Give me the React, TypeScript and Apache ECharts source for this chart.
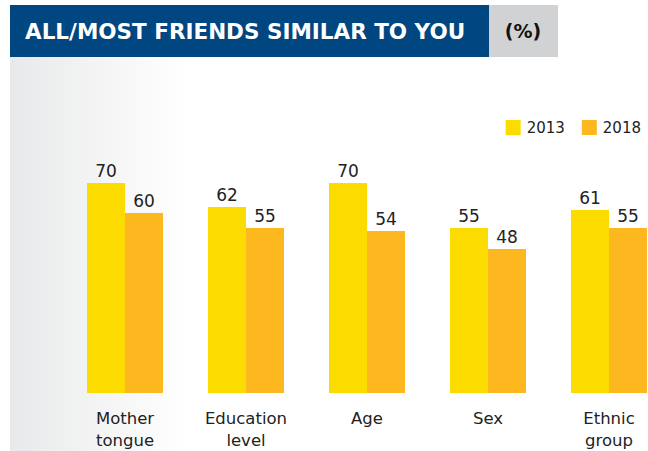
import React, { useEffect, useRef } from "react";
import * as echarts from "echarts";

const categories = ["Mother\ntongue", "Education\nlevel", "Age", "Sex", "Ethnic\ngroup"];
const values2013 = [70, 62, 70, 55, 61];
const values2018 = [60, 55, 54, 48, 55];
const seriesNames = ["2013", "2018"];
const titleText = "ALL/MOST FRIENDS SIMILAR TO YOU";
const unitText = "(%)";

const FONT = "'DejaVu Sans', 'Noto Sans', sans-serif";

export default function App() {
  const ref = useRef<HTMLDivElement>(null);
  useEffect(() => {
    if (!ref.current) return;
    const chart = echarts.init(ref.current, null, { renderer: "svg" });
    const labelStyle = {
      show: true,
      position: "top" as const,
      color: "#222",
      fontSize: 17,
      fontFamily: FONT,
      distance: 4,
    };
    chart.setOption({
      animation: false,
      backgroundColor: "#ffffff",
      graphic: [
        {
          type: "rect",
          shape: { x: 10, y: 57, width: 638, height: 394 },
          style: {
            fill: new echarts.graphic.LinearGradient(0, 0, 1, 0, [
              { offset: 0, color: "#e8e9ea" },
              { offset: 0.28, color: "#ffffff" },
              { offset: 1, color: "#ffffff" },
            ]),
          },
          z: -10,
        },
        {
          type: "rect",
          shape: { x: 10, y: 5, width: 479, height: 52 },
          style: { fill: "#004680" },
        },
        {
          type: "rect",
          shape: { x: 489, y: 5, width: 69, height: 52 },
          style: { fill: "#d1d2d4" },
        },
        {
          type: "text",
          x: 25,
          y: 31,
          style: {
            text: titleText,
            fill: "#ffffff",
            font: `bold 21.5px ${FONT}`,
            textVerticalAlign: "middle",
          },
        },
        {
          type: "text",
          x: 523,
          y: 31,
          style: {
            text: unitText,
            fill: "#111",
            font: `bold 19px ${FONT}`,
            textAlign: "center",
            textVerticalAlign: "middle",
          },
        },
      ],
      legend: {
        data: seriesNames,
        right: 2,
        top: 115,
        itemWidth: 15,
        itemHeight: 15,
        itemGap: 17,
        icon: "rect",
        textStyle: { color: "#222", fontSize: 15, fontFamily: FONT, padding: [0, 0, 0, 1] },
      },
      grid: { left: 64.5, width: 605, top: 93, bottom: 58, outerBoundsMode: "none", containLabel: false },
      xAxis: {
        type: "category",
        data: categories,
        axisLine: { show: false },
        axisTick: { show: false },
        axisLabel: {
          color: "#222",
          fontSize: 16.5,
          fontFamily: FONT,
          lineHeight: 22,
          margin: 14,
          interval: 0,
        },
      },
      yAxis: {
        type: "value",
        min: 0,
        max: 100,
        show: false,
        splitLine: { show: false },
      },
      series: [
        {
          name: seriesNames[0],
          type: "bar",
          data: values2013,
          barWidth: 38,
          barGap: "0%",
          itemStyle: { color: "#fcdc00" },
          label: labelStyle,
        },
        {
          name: seriesNames[1],
          type: "bar",
          data: values2018,
          barWidth: 38,
          barGap: "0%",
          itemStyle: { color: "#fdb71f" },
          label: labelStyle,
        },
      ],
    });
    return () => chart.dispose();
  }, []);
  return (
    <div
      ref={ref}
      style={{ position: "fixed", left: 0, top: 0, width: 648, height: 451 }}
    />
  );
}
